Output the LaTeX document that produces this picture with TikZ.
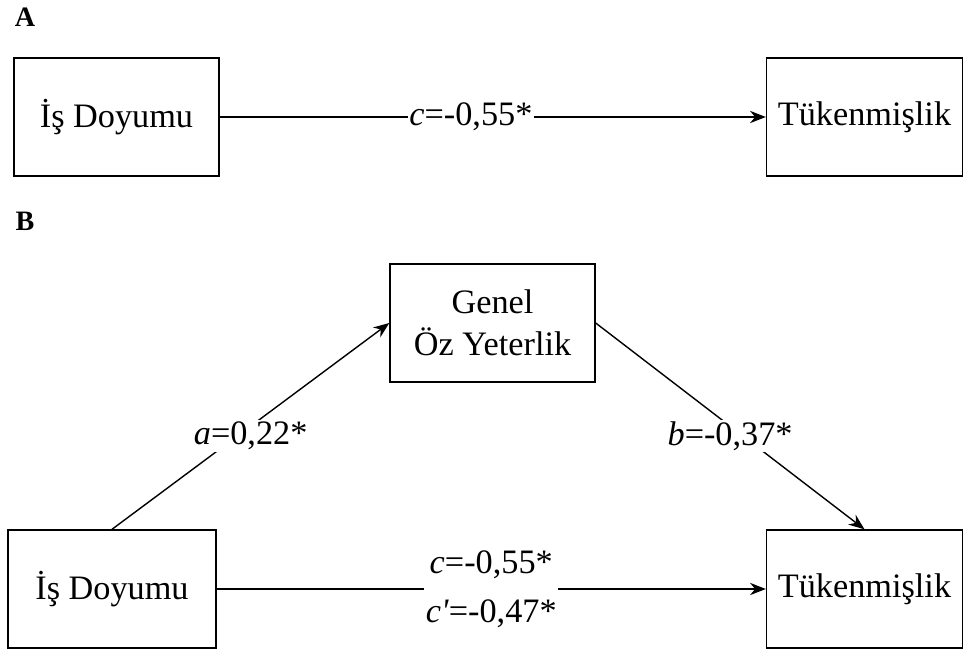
\documentclass[tikz,border=0pt]{standalone}
\usepackage{fontspec}
\setmainfont{Liberation Serif}
\usetikzlibrary{arrows.meta}
\tikzset{>={Stealth[length=9pt,width=7pt]}}
\tikzset{
  varbox/.style={draw, line width=0.8pt, minimum width=205*0.02cm, minimum height=118*0.02cm,
    align=center, inner sep=2pt, font=\fontsize{19.5}{24}\selectfont},
  path/.style={->, line width=0.8pt},
  coef/.style={fill=white, inner sep=1pt, font=\fontsize{19.5}{24}\selectfont},
  panel/.style={font=\fontsize{16}{18}\selectfont\bfseries}
}

\begin{document}
\begin{tikzpicture}[x=0.02cm, y=-0.02cm]
    \useasboundingbox (0,0) rectangle (964,649);
    % panel A
    \node[panel] (labA) at (25,17) {A};
    \node[varbox] (isA) at (116.5,117) {İş Doyumu};
    \node[varbox, minimum width=196*0.02cm] (tukA) at (864.5,117) {Tükenmişlik};
    \draw[path] (isA) -- (tukA) node [coef, pos=0.46] {\textit{c}=-0,55*};
    % panel B
    \node[panel] (labB) at (25,221) {B};
    \node[varbox] (ozy) at (492.5,323) {Genel\\Öz Yeterlik};
    \node[varbox, minimum width=208*0.02cm] (isB) at (112,589) {İş Doyumu};
    \node[varbox, minimum width=196*0.02cm] (tukB) at (864.5,589) {Tükenmişlik};
    \draw[path] (isB.north) -- (ozy.west) node [coef, midway, yshift=-0.2cm] {\textit{a}=0,22*};
    \draw[path] (ozy.east) -- (tukB.north) node [coef, midway, yshift=-0.2cm] {\textit{b}=-0,37*};
    \draw[path] (isB) -- (tukB) node [coef, midway, align=center, font=\fontsize{19.5}{28}\selectfont] {\textit{c}=-0,55*\\\textit{c\textquotesingle}=-0,47*};
\end{tikzpicture}
\end{document}
